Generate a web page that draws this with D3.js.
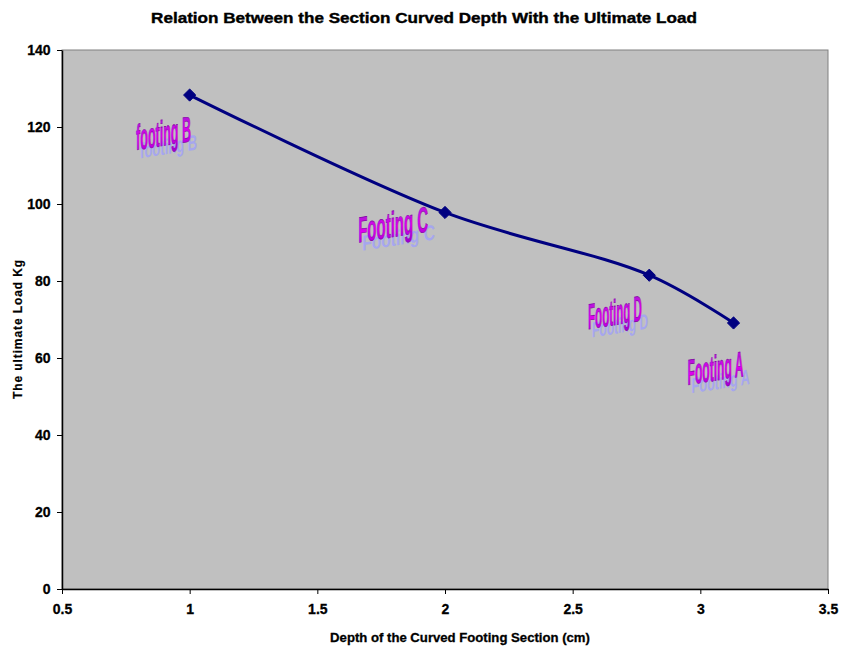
<!DOCTYPE html>
<html>
<head>
<meta charset="utf-8">
<script src="https://cdn.jsdelivr.net/npm/d3@7"></script>
<style>
  html, body { margin: 0; padding: 0; background: #ffffff; }
  svg { display: block; }
  text { font-family: "Liberation Sans", Arial, sans-serif; }
</style>
</head>
<body>
<script>
// Depth of curved footing section (cm) vs. ultimate load (kg)
const footings = ["footing B", "Footing C", "Footing D", "Footing A"];
const depths   = [1.0, 2.0, 2.8, 3.13];
const loads    = [128.3, 97.8, 81.5, 69.1];

const xTicks = [0.5, 1, 1.5, 2, 2.5, 3, 3.5];
const yTicks = [0, 20, 40, 60, 80, 100, 120, 140];

// caption anchors (data units) and drawn widths (px) for the word-art labels
const labelX = [0.79, 1.66, 2.56, 2.95];
const labelY = [114, 90, 67.5, 53];
const labelW = [55, 70, 54, 56];

const W = 842, H = 648;
const m = { left: 62, right: 14, top: 50, bottom: 59 };

const svg = d3.select("body").append("svg")
  .attr("width", W).attr("height", H);

const x = d3.scaleLinear().domain([0.5, 3.5]).range([m.left, W - m.right]);
const y = d3.scaleLinear().domain([0, 140]).range([H - m.bottom, m.top]);

const defs = svg.append("defs");
const grad = defs.append("linearGradient")
  .attr("id", "wordart").attr("x1", 0).attr("y1", 0).attr("x2", 0).attr("y2", 1);
grad.append("stop").attr("offset", "0%").attr("stop-color", "#a020d0");
grad.append("stop").attr("offset", "55%").attr("stop-color", "#e000f0");
grad.append("stop").attr("offset", "100%").attr("stop-color", "#9900cc");

// plot area
svg.append("rect")
  .attr("x", x(0.5)).attr("y", y(140))
  .attr("width", x(3.5) - x(0.5)).attr("height", y(0) - y(140))
  .attr("fill", "#c0c0c0").attr("stroke", "#808080").attr("stroke-width", 1);

// axes
const xAxis = svg.append("g")
  .attr("transform", `translate(0,${y(0)})`)
  .call(d3.axisBottom(x).tickValues(xTicks).tickSize(5).tickSizeOuter(0)
    .tickFormat(d3.format("")));
const yAxis = svg.append("g")
  .attr("transform", `translate(${x(0.5)},0)`)
  .call(d3.axisLeft(y).tickValues(yTicks).tickSize(5).tickSizeOuter(0));

[xAxis, yAxis].forEach(g => {
  g.select(".domain").attr("stroke", "#000").attr("stroke-width", 1.5);
  g.selectAll(".tick line").attr("stroke", "#000");
  g.selectAll(".tick text")
    .attr("fill", "#000").attr("font-size", 14).attr("font-weight", "bold")
    .attr("stroke", "#000").attr("stroke-width", 0.3)
    .attr("font-family", "'Liberation Sans', Arial, sans-serif");
});
xAxis.selectAll(".tick text").attr("dy", "1.2em");
yAxis.selectAll(".tick text").attr("dx", "-0.25em");

// series line
const pts = depths.map((d, i) => [d, loads[i]]);
svg.append("path")
  .datum(pts)
  .attr("fill", "none").attr("stroke", "#000080").attr("stroke-width", 3)
  .attr("d", d3.line().x(d => x(d[0])).y(d => y(d[1])).curve(d3.curveCatmullRom.alpha(0.5)));

// diamond markers
svg.selectAll("path.marker")
  .data(pts).enter().append("path")
  .attr("class", "marker")
  .attr("d", d3.symbol().type(d3.symbolDiamond2).size(95))
  .attr("transform", d => `translate(${x(d[0])},${y(d[1])})`)
  .attr("fill", "#000080").attr("stroke", "#000080");

// word-art captions: tall condensed text with a flattened lavender shadow
footings.forEach((name, i) => {
  const g = svg.append("g")
    .attr("transform", `translate(${x(labelX[i])},${y(labelY[i])}) skewY(-9)`);
  const shadow = g.append("text")
    .attr("font-size", 36).attr("font-weight", "bold")
    .attr("fill", "#a4a4f4").attr("opacity", 0.9)
    .text(name);
  const face = g.append("text")
    .attr("font-size", 36).attr("font-weight", "bold")
    .attr("fill", "url(#wordart)").attr("stroke", "#8000a0").attr("stroke-width", 0.6)
    .text(name);
  const natural = face.node().getComputedTextLength();
  const k = labelW[i] / natural;
  face.attr("transform", `scale(${k},1)`);
  shadow.attr("transform", `translate(4,9) scale(${k * 1.04},0.6)`);
});

// titles
function fitText(sel, width) {
  const natural = sel.node().getComputedTextLength();
  const cx = +sel.attr("x"), cy = +sel.attr("y");
  sel.attr("x", 0).attr("y", 0)
    .attr("transform", `translate(${cx},${cy}) scale(${width / natural},1)`);
  return sel;
}

fitText(svg.append("text")
  .attr("x", 424).attr("y", 23).attr("text-anchor", "middle")
  .attr("font-size", 15).attr("font-weight", "bold")
  .attr("stroke", "#000").attr("stroke-width", 0.4)
  .text("Relation Between the Section Curved Depth With the Ultimate Load"), 546);

fitText(svg.append("text")
  .attr("x", 460).attr("y", 642).attr("text-anchor", "middle")
  .attr("font-size", 13).attr("font-weight", "bold")
  .attr("stroke", "#000").attr("stroke-width", 0.3)
  .text("Depth of the Curved Footing Section (cm)"), 260);

svg.append("text")
  .attr("transform", `translate(22,329) rotate(-90)`)
  .attr("text-anchor", "middle")
  .attr("font-size", 12).attr("font-weight", "bold")
  .attr("stroke", "#000").attr("stroke-width", 0.2)
  .attr("letter-spacing", 0.9)
  .text("The ultimate Load Kg");
</script>
</body>
</html>
